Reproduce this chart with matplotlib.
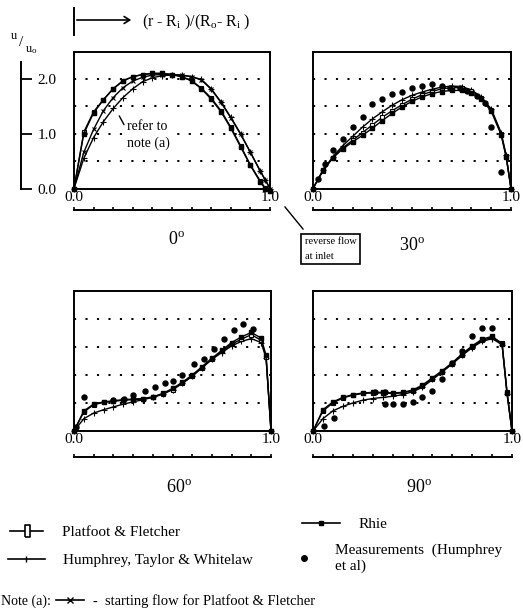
import numpy as np
import matplotlib
matplotlib.use("Agg")
import matplotlib.pyplot as plt
from matplotlib.lines import Line2D
from matplotlib.patches import FancyArrowPatch

plt.rcParams['font.family'] = ['Liberation Serif', 'DejaVu Serif']
plt.rcParams['mathtext.fontset'] = 'custom'
plt.rcParams['mathtext.rm'] = 'Liberation Serif'
plt.rcParams['mathtext.it'] = 'Liberation Serif:italic'

W, H = 523, 614

# radial position (r - Ri)/(Ro - Ri)
r = [0, .05, .1, .15, .2, .25, .3, .35, .4, .45, .5, .55, .6, .65, .7, .75, .8, .85, .9, .95, .975, 1.0]

# 0 deg (inlet)
pf_0 = [0, 1.03, 1.40, 1.62, 1.82, 1.97, 2.04, 2.08, 2.10, 2.10, 2.08, 2.04, 1.97, 1.83, 1.65, 1.42, 1.12, 0.78, 0.43, 0.14, 0.01, -0.05]
rhie_0 = [0, 1.00, 1.38, 1.62, 1.82, 1.96, 2.04, 2.08, 2.10, 2.10, 2.08, 2.04, 1.96, 1.82, 1.63, 1.40, 1.10, 0.76, 0.42, 0.12, 0.0, -0.04]
htw_0 = [0, 0.55, 0.93, 1.22, 1.46, 1.66, 1.82, 1.95, 2.02, 2.06, 2.07, 2.07, 2.04, 1.99, 1.82, 1.58, 1.30, 1.00, 0.66, 0.32, 0.16, 0]
start_0 = [0, 0.66, 1.08, 1.42, 1.66, 1.84, 1.96, 2.03, 2.07, 2.08, 2.08, 2.07, 2.04, 1.98, 1.81, 1.57, 1.29, 0.99, 0.66, 0.32, 0.16, 0]

# 30 deg
pf_30 = [0, .32, .56, .74, .88, 1.02, 1.16, 1.30, 1.42, 1.53, 1.63, 1.71, 1.77, 1.82, 1.84, 1.84, 1.78, 1.66, 1.44, 1.00, 0.60, 0]
rhie_30 = [0, .33, .56, .72, .85, .97, 1.10, 1.24, 1.37, 1.49, 1.59, 1.67, 1.73, 1.77, 1.79, 1.79, 1.74, 1.63, 1.41, .98, .58, 0]
htw_30 = [0, .33, .58, .78, .95, 1.12, 1.27, 1.40, 1.52, 1.62, 1.70, 1.76, 1.81, 1.85, 1.87, 1.86, 1.80, 1.67, 1.45, 1.02, 0.62, 0]
meas_x_30 = [0.025, 0.06, 0.10, 0.15, 0.20, 0.25, 0.30, 0.35, 0.40, 0.45, 0.50, 0.55, 0.60, 0.65, 0.69, 0.74, 0.78, 0.83, 0.87, 0.90, 0.95]
meas_30 = [0.18, 0.44, 0.71, 0.90, 1.12, 1.30, 1.55, 1.64, 1.72, 1.77, 1.84, 1.87, 1.90, 1.87, 1.84, 1.84, 1.78, 1.69, 1.56, 1.12, 0.31]

# 60 deg
pf_60 = [0, .34, .47, .51, .53, .55, .56, .57, .60, .66, .74, .85, .98, 1.13, 1.28, 1.42, 1.55, 1.64, 1.72, 1.62, 1.32, 0]
rhie_60 = [0, .36, .48, .52, .54, .56, .57, .58, .61, .67, .76, .87, 1.00, 1.15, 1.30, 1.44, 1.58, 1.68, 1.76, 1.66, 1.35, 0]
htw_60 = [0, .22, .32, .38, .43, .48, .52, .56, .60, .66, .74, .85, .98, 1.13, 1.28, 1.40, 1.52, 1.60, 1.65, 1.58, 1.30, 0]
meas_x_60 = [0.01, 0.05, 0.20, 0.255, 0.30, 0.36, 0.41, 0.46, 0.50, 0.55, 0.61, 0.66, 0.71, 0.76, 0.81, 0.86, 0.91]
meas_60 = [0.08, 0.60, 0.55, 0.58, 0.64, 0.72, 0.78, 0.86, 0.90, 1.00, 1.20, 1.29, 1.46, 1.65, 1.80, 1.91, 1.82]

# 90 deg
pf_90 = [0, .36, .50, .59, .64, .67, .68, .68, .67, .68, .72, .80, .92, 1.06, 1.20, 1.36, 1.50, 1.62, 1.67, 1.57, 0.70, 0]
rhie_90 = [0, .38, .52, .60, .65, .68, .69, .69, .68, .69, .73, .82, .95, 1.08, 1.22, 1.38, 1.52, 1.64, 1.69, 1.56, 0.68, 0]
htw_90 = [0, .22, .36, .44, .50, .55, .58, .60, .62, .65, .70, .78, .92, 1.06, 1.20, 1.35, 1.49, 1.60, 1.65, 1.54, 0.66, 0]
meas_x_90 = [0.056, 0.105, 0.31, 0.36, 0.36, 0.40, 0.45, 0.50, 0.55, 0.60, 0.65, 0.70, 0.75, 0.80, 0.85, 0.90]
meas_90 = [0.09, 0.23, 0.69, 0.70, 0.49, 0.49, 0.48, 0.51, 0.60, 0.71, 0.93, 1.22, 1.42, 1.69, 1.84, 1.84]

titles = ['0', '30', '60', '90']


def fx(x):
    return x / W


def fy(y):
    return 1 - y / H


def rect(x0, y0, x1, y1):
    return [fx(x0), fy(y1), (x1 - x0) / W, (y1 - y0) / H]


fig = plt.figure(figsize=(W / 100, H / 100), dpi=100)

# panel boxes in pixels: left, top, right, bottom(y=0)
boxes = [(74, 51.5, 270, 188.5), (313, 51.5, 511, 188.5),
         (74, 291, 271, 431), (313, 291, 512, 431)]
sec_loc = [-0.16, -0.16, -0.186, -0.186]
title_pos = [(177, 240), (412, 245), (179, 488), (419, 487)]

data = [
    (pf_0, rhie_0, htw_0, None, None),
    (pf_30, rhie_30, htw_30, meas_x_30, meas_30),
    (pf_60, rhie_60, htw_60, meas_x_60, meas_60),
    (pf_90, rhie_90, htw_90, meas_x_90, meas_90),
]

axes = []
for i, (b, d) in enumerate(zip(boxes, data)):
    ax = fig.add_axes(rect(*b))
    pf, rh, htw, mx, my = d
    ax.plot(r, htw, color='k', lw=1.0, marker='+', ms=4, mew=0.8, clip_on=False, zorder=3)
    ax.plot(r, pf, color='k', lw=1.0, marker='s', ms=2.8, mfc='white', mec='k', mew=0.8, clip_on=False, zorder=4)
    ax.plot(r, rh, color='k', lw=1.0, marker='s', ms=2.2, mfc='k', mec='k', clip_on=False, zorder=4)
    if i == 0:
        ax.plot(r, start_0, color='k', lw=1.0, marker='x', ms=3, mew=0.8, clip_on=False, zorder=3)
    if mx is not None:
        ax.plot(mx, my, ls='none', marker='o', ms=3.6, color='k', clip_on=False, zorder=5)

    ax.set_xlim(0, 1)
    ax.set_ylim(0, 2.5)
    ax.set_yticks([0.5, 1.0, 1.5, 2.0])
    ax.tick_params(axis='y', length=0, labelleft=False)
    ax.grid(axis='y', color='k', lw=1.4, ls=(0, (1.1, 4.8)))
    ax.set_xticks([0, 1])
    ax.set_xticklabels(['0.0', '1.0'], fontsize=11)
    ax.tick_params(axis='x', length=0, pad=1.5)
    for s in ax.spines.values():
        s.set_linewidth(1.4)

    sec = ax.secondary_xaxis(sec_loc[i])
    sec.set_xticks(np.arange(0, 1.01, 0.1))
    sec.set_xticklabels([])
    sec.tick_params(direction='in', length=2.5, width=1.2)
    sec.spines['bottom'].set_linewidth(1.4)

    tx, ty = title_pos[i]
    fig.text(fx(tx), fy(ty), titles[i] + r'$^\mathrm{o}$', fontsize=13, ha='center', va='center')
    axes.append(ax)

# note (a) pointer in the inlet panel
ax0 = axes[0]
ax0.text(0.27, 0.98, 'refer to\nnote (a)', fontsize=10, va='center', ha='left', linespacing=1.3,
         bbox=dict(fc='white', ec='none', pad=0.5), zorder=2)
ax0.annotate('', xy=(0.224, 1.37), xytext=(0.262, 1.12),
             arrowprops=dict(arrowstyle='-', lw=1.0, color='k'))

# reverse flow box
fig.text(fx(305), fy(249), 'reverse flow\nat inlet', fontsize=7.5, va='center', ha='left', linespacing=1.8,
         bbox=dict(boxstyle='square,pad=0.35', fc='white', ec='black', lw=1.2))
fig.add_artist(Line2D([fx(285), fx(303)], [fy(207), fy(229)], color='k', lw=1.0))

# separate y axis on the far left
yax = fig.add_axes(rect(21, boxes[0][1], 35, boxes[0][3]))
yax.set_ylim(0, 2.5)
yax.set_xticks([])
yax.set_yticks([0, 1, 2])
yax.set_yticklabels(['0.0', '1.0', '2.0'], fontsize=11)
yax.tick_params(axis='y', direction='in', length=8, width=1.3, left=True, right=False,
                labelleft=False, labelright=True, pad=2)
for s in ['top', 'right', 'bottom']:
    yax.spines[s].set_visible(False)
yax.spines['left'].set_bounds(0, 2.3)
yax.spines['left'].set_linewidth(1.4)
yax.patch.set_alpha(0)

# u/uo label
fig.text(fx(14), fy(36), 'u', fontsize=9, ha='center', va='center')
fig.text(fx(21), fy(42), '/', fontsize=11, ha='center', va='center')
fig.text(fx(31), fy(50), r'u$_\mathrm{o}$', fontsize=9, ha='center', va='center')

# radial coordinate arrow
fig.add_artist(Line2D([fx(74), fx(74)], [fy(8), fy(35)], color='k', lw=1.4))
fig.add_artist(FancyArrowPatch((fx(74), fy(20)), (fx(134), fy(20)), transform=fig.transFigure,
                               arrowstyle='->,head_length=4,head_width=2.5', lw=1.2, color='k'))
fig.text(fx(142), fy(22), r'(r - R$_\mathrm{i}$ )/(R$_\mathrm{o}$- R$_\mathrm{i}$ )', fontsize=11.5, va='center')

# legend entries
rect_marker = [(-0.4, -1), (0.4, -1), (0.4, 1), (-0.4, 1), (-0.4, -1)]
h_pf = Line2D([], [], color='k', lw=1.2, marker=rect_marker, ms=9, mfc='white', mec='k', mew=1.2)
h_htw = Line2D([], [], color='k', lw=1.2, marker='|', ms=5, mew=1.0)
h_rhie = Line2D([], [], color='k', lw=1.2, marker='s', ms=3.5)
h_meas = Line2D([], [], ls='none', marker='o', ms=4, color='k')
h_start = Line2D([], [], color='k', lw=1.2, marker='x', ms=4, mew=1.0)


def key(handle, label, x, y, hl, pad, fs=11):
    fig.legend([handle], [label], loc='center left', bbox_to_anchor=(fx(x), fy(y)),
               frameon=False, borderpad=0, borderaxespad=0, handlelength=hl,
               handletextpad=pad, fontsize=fs, numpoints=1)


key(h_pf, 'Platfoot & Fletcher', 10, 532, 2.16, 1.24)
key(h_htw, 'Humphrey, Taylor & Whitelaw', 8, 560, 2.42, 1.18)
key(h_rhie, 'Rhie', 302, 524, 2.5, 1.18)
key(h_meas, 'Measurements  (Humphrey\net al)', 296, 558, 1.0, 1.57)
fig.text(fx(1), fy(601), 'Note (a):', fontsize=10, va='center', ha='left')
key(h_start, '-  starting flow for Platfoot & Fletcher', 56, 601, 1.9, 0.65, fs=10.5)

fig.savefig('out.png', dpi=100)
